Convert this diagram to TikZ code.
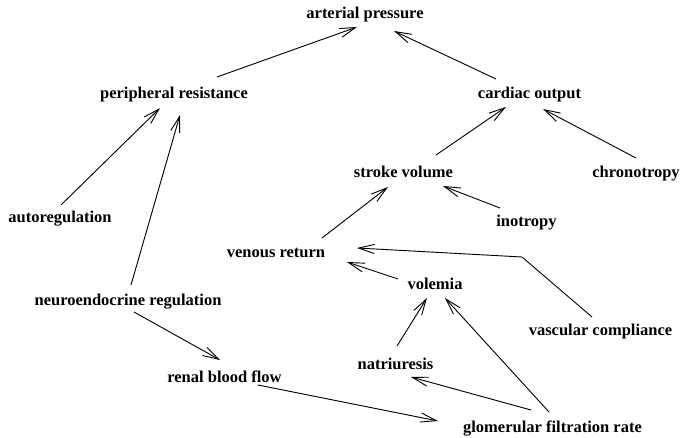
\documentclass[tikz,border=0pt]{standalone}
\usepackage{fontspec}
\setmainfont{Liberation Serif}
\usetikzlibrary{arrows.meta}
\begin{document}
\begin{tikzpicture}[x=0.6pt,y=-0.6pt,
  lbl/.style={anchor=base,inner sep=0pt,font=\fontsize{9.9}{12}\selectfont\bfseries},
  arr/.style={-{Straight Barb[length=9.5pt,width=5.5pt]},line width=0.55pt}]
\useasboundingbox (0,0) rectangle (681,438);
% variables
\node[lbl] (ap) at (365,19)   {arterial pressure};
\node[lbl] (pr) at (174,99)   {peripheral resistance};
\node[lbl] (co) at (529.5,99) {cardiac output};
\node[lbl] (sv) at (403.5,178){stroke volume};
\node[lbl] (ch) at (636,178)  {chronotropy};
\node[lbl] (au) at (60,223)   {autoregulation};
\node[lbl] (in) at (526.5,227){inotropy};
\node[lbl] (vr) at (276,258)  {venous return};
\node[lbl] (vo) at (435,289)  {volemia};
\node[lbl] (ne) at (128,305)  {neuroendocrine regulation};
\node[lbl] (vc) at (600.5,335){vascular compliance};
\node[lbl] (na) at (395.5,369){natriuresis};
\node[lbl] (rb) at (224.5,382){renal blood flow};
\node[lbl] (gf) at (552.5,432){glomerular filtration rate};
% influences
\draw[arr] ([shift={(43,-22)}]pr.base) -- ([shift={(-8,8)}]ap.base);
\draw[arr] ([shift={(-33.5,-20)}]co.base) -- ([shift={(29,12)}]ap.base);
\draw[arr] ([shift={(32.5,-23)}]sv.base) -- ([shift={(-23.5,8)}]co.base);
\draw[arr] ([shift={(0,-20)}]ch.base) -- ([shift={(13.5,10)}]co.base);
\draw[arr] ([shift={(1,-18)}]au.base) -- ([shift={(-14,9)}]pr.base);
\draw[arr] ([shift={(3,-20)}]ne.base) -- ([shift={(6,16)}]pr.base);
\draw[arr] ([shift={(6,7)}]ne.base) -- ([shift={(-4.5,-22)}]rb.base);
\draw[arr] ([shift={(46,-20)}]vr.base) -- ([shift={(-15.5,9)}]sv.base);
\draw[arr] ([shift={(-26.5,-19)}]in.base) -- ([shift={(39.5,8)}]sv.base);
\coordinate (vcbend) at ([shift={(-78.5,-78)}]vc.base);
\draw[arr] ([shift={(-8.5,-18)}]vc.base) -- (vcbend) -- ([shift={(81,-10)}]vr.base);
\draw[arr] ([shift={(-37,-10)}]vo.base) -- ([shift={(71,4)}]vr.base);
\draw[arr] ([shift={(1.5,-23)}]na.base) -- ([shift={(-8,9)}]vo.base);
\draw[arr] ([shift={(-3.5,-20)}]gf.base) -- ([shift={(10,9)}]vo.base);
\draw[arr] ([shift={(-21.5,-22)}]gf.base) -- ([shift={(15.5,8)}]na.base);
\draw[arr] ([shift={(33.5,3)}]rb.base) -- ([shift={(-114.5,-11)}]gf.base);
\end{tikzpicture}
\end{document}
